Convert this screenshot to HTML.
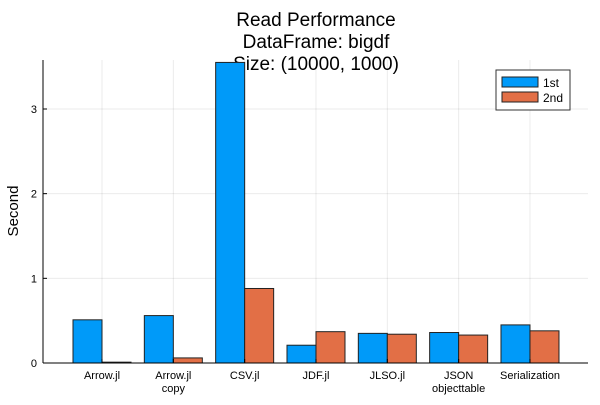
<!DOCTYPE html>
<html><head><meta charset="utf-8"><style>
body{margin:0;background:#fff}
svg{font-family:"Liberation Sans",sans-serif}
</style></head><body>
<svg id="chart" width="600" height="400" viewBox="0 0 600 400">
<g font-size="19" text-anchor="middle" fill="#000">
<text x="316" y="26">Read Performance</text>
<text x="316" y="48">DataFrame: bigdf</text>
<text x="316" y="70">Size: (10000, 1000)</text>
</g>
<g id="grid"></g>
<g id="bars"></g>
<g id="axes"></g>
<text x="18" y="211" font-size="15" text-anchor="middle" transform="rotate(-90 18 211)">Second</text>
<g>
<rect x="496" y="70" width="74" height="40" fill="#fff" stroke="#333" stroke-width="1"/>
<rect x="502" y="77" width="36" height="10" fill="#009af9" stroke="#222" stroke-width="1"/>
<text x="543" y="87" font-size="12">1st</text>
<rect x="502" y="92" width="36" height="10" fill="#e26f46" stroke="#222" stroke-width="1"/>
<text x="543" y="102" font-size="12">2nd</text>
</g>
</svg>
<script>
const categories = ["Arrow.jl","Arrow.jl\ncopy","CSV.jl","JDF.jl","JLSO.jl","JSON\nobjecttable","Serialization"];
const first = [0.51,0.56,3.55,0.21,0.35,0.36,0.45];
const second = [0.01,0.06,0.88,0.37,0.34,0.33,0.38];
const yTicks = [0,1,2,3];

const NS="http://www.w3.org/2000/svg";
const pLeft=43, pRight=588, pTop=60, pBottom=363;
const yScale=v=>363-v*84.67;
const xScale=i=>102+i*71.33;
const bw=29;
function mk(tag,attrs,parent){const e=document.createElementNS(NS,tag);for(const k in attrs)e.setAttribute(k,attrs[k]);parent.appendChild(e);return e;}
const gridG=document.getElementById('grid'),barsG=document.getElementById('bars'),axesG=document.getElementById('axes');
yTicks.forEach(t=>{
  const y=yScale(t);
  const g=mk('line',{x1:pLeft,x2:pRight,y1:y,y2:y,stroke:'#000','stroke-opacity':0.08},gridG);
  
  
  const tk=mk('line',{x1:pLeft,x2:pLeft+4,y1:y,y2:y,stroke:'#000'},axesG);
  
  
  const tx=mk('text',{x:pLeft-6,y:y+4,'font-size':11,'text-anchor':'end'},axesG);
  tx.textContent=t;
  
  
});
categories.forEach((c,i)=>{
  const cx=xScale(i);
  const g=mk('line',{x1:cx,x2:cx,y1:pTop,y2:pBottom,stroke:'#000','stroke-opacity':0.08},gridG);
  
  
  const b1=mk('rect',{x:cx-bw,y:yScale(first[i]),width:bw,height:yScale(0)-yScale(first[i]),fill:'#009af9',stroke:'#222','stroke-width':1},barsG);
  
  
  const b2=mk('rect',{x:cx,y:yScale(second[i]),width:bw,height:yScale(0)-yScale(second[i]),fill:'#e26f46',stroke:'#222','stroke-width':1},barsG);
  
  
  c.split('\n').forEach((ln,j)=>{
    const t=mk('text',{x:cx,y:379+j*13,'font-size':11,'text-anchor':'middle'},axesG);
    t.textContent=ln;
    
    
  });
  const tk=mk('line',{x1:cx,x2:cx,y1:pBottom,y2:pBottom-4,stroke:'#000'},axesG);
  
  
});
const xa=mk('line',{x1:pLeft,x2:pRight,y1:pBottom,y2:pBottom,stroke:'#000'},axesG);


const ya=mk('line',{x1:pLeft,x2:pLeft,y1:pTop,y2:pBottom,stroke:'#000'},axesG);


</script>
</body></html>
